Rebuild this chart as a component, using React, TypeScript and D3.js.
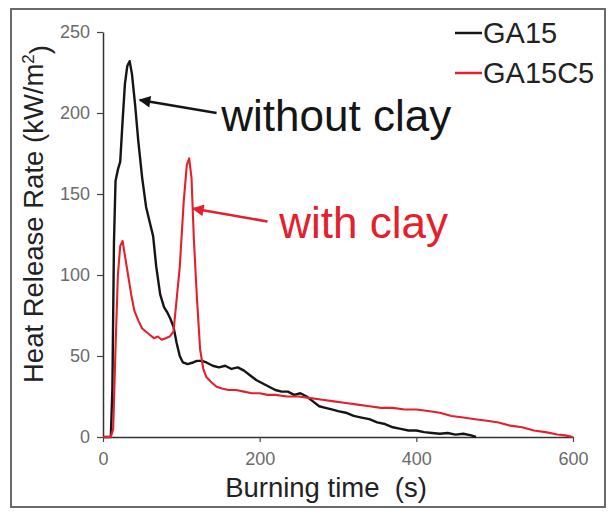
import { useEffect, useRef } from 'react'
import * as d3 from 'd3'

// GA15 (without clay)
const timeGA15 = [0, 10, 12, 14, 16, 19, 22, 25, 28, 31, 34, 37, 41, 45, 50, 55, 60, 64, 68, 73, 78, 82, 86, 90, 94, 98, 102, 108, 115, 120, 126, 132, 140, 148, 156, 164, 172, 180, 188, 196, 204, 212, 220, 228, 236, 244, 252, 260, 268, 276, 284, 292, 300, 310, 320, 330, 340, 350, 360, 370, 380, 390, 400, 410, 420, 430, 440, 450, 460, 470, 476]
const hrrGA15 = [0, 0, 30, 120, 158, 165, 170, 195, 218, 229, 232, 224, 205, 183, 160, 142, 132, 124, 105, 88, 80, 77, 73, 68, 58, 50, 46, 45, 46, 47, 47, 46, 44, 43, 44, 42, 43, 41, 38, 35, 33, 31, 29, 28, 28, 26, 27, 25, 22, 19, 18, 17, 16, 15, 13, 12, 11, 9, 8, 6, 5, 4, 4, 3, 2.5, 2, 2.5, 1.5, 2, 1, 0]

// GA15C5 (with clay)
const timeGA15C5 = [0, 10, 13, 16, 19, 22, 25, 28, 32, 36, 40, 45, 50, 55, 60, 65, 70, 75, 80, 85, 90, 94, 98, 103, 107, 110, 113, 116, 120, 124, 128, 132, 138, 145, 152, 160, 170, 180, 190, 200, 210, 220, 235, 250, 265, 280, 295, 310, 325, 340, 355, 370, 385, 400, 415, 430, 445, 460, 475, 490, 505, 520, 535, 550, 565, 580, 590, 600]
const hrrGA15C5 = [0, 0, 5, 55, 100, 118, 121, 112, 100, 88, 78, 72, 67, 65, 63, 61, 62, 60, 61, 62, 65, 85, 105, 145, 168, 172, 160, 122, 85, 54, 42, 37, 34, 31, 30, 29, 29, 28, 27, 27, 26, 26, 25, 25, 24, 23, 22, 21, 20, 19, 18, 18, 17, 17, 16, 15, 13, 12, 11, 10, 9, 7, 6, 4, 3, 1.5, 1, 0]

const xTicks = [0, 200, 400, 600]
const yTicks = [0, 50, 100, 150, 200, 250]

const seriesNames = ['GA15', 'GA15C5']
const seriesColors = ['#151515', '#e3202c']

// annotations in data units: [tipT, tipV, tailT, tailV, textT, textV]
const annoLabels = ['without clay', 'with clay']
const annoPoints = [
  [47, 208, 145, 200, 151, 189],
  [115, 141, 210, 133, 225, 123],
]

const W = 614
const H = 514
const FONT = '"Liberation Sans", Arial, sans-serif'

export default function App() {
  const svgRef = useRef<SVGSVGElement>(null)

  useEffect(() => {
    if (!svgRef.current) return
    const svg = d3.select(svgRef.current)
    svg.selectAll('*').remove()

    const margin = { top: 32, right: 41, bottom: 77, left: 103 }
    const width = W - margin.left - margin.right
    const height = H - margin.top - margin.bottom

    // outer frame
    svg.append('rect')
      .attr('x', 11).attr('y', 9)
      .attr('width', 594).attr('height', 498)
      .attr('fill', 'white')
      .attr('stroke', '#6a6a6a')
      .attr('stroke-width', 2)

    const defs = svg.append('defs')
    seriesColors.forEach((c, i) => {
      defs.append('marker')
        .attr('id', `arrow${i}`)
        .attr('viewBox', '0 0 10 10')
        .attr('refX', 9).attr('refY', 5)
        .attr('markerWidth', 5).attr('markerHeight', 4.5)
        .attr('markerUnits', 'strokeWidth')
        .attr('orient', 'auto')
        .append('path')
        .attr('d', 'M0,0 L10,5 L0,10 Z')
        .attr('fill', c)
    })

    const g = svg.append('g')
      .attr('transform', `translate(${margin.left},${margin.top})`)

    const x = d3.scaleLinear().domain([0, 600]).range([0, width])
    const y = d3.scaleLinear().domain([0, 250]).range([height, 0])

    const xAxis = g.append('g')
      .attr('transform', `translate(0,${height})`)
      .call(d3.axisBottom(x).tickValues(xTicks).tickSize(5).tickSizeOuter(0).tickPadding(10))
    const yAxis = g.append('g')
      .call(d3.axisLeft(y).tickValues(yTicks).tickSize(6).tickSizeOuter(0).tickPadding(7))

    ;[xAxis, yAxis].forEach(ax => {
      ax.select('.domain').attr('stroke', '#333').attr('stroke-width', 1.5)
      ax.selectAll('.tick line').attr('stroke', '#444').attr('stroke-width', 1.2)
      ax.selectAll('.tick text')
        .attr('fill', '#6b6b6b')
        .style('font-family', FONT)
        .style('font-size', '18px')
    })

    const series = [
      { t: timeGA15, v: hrrGA15 },
      { t: timeGA15C5, v: hrrGA15C5 },
    ]

    const ln = d3.line<[number, number]>()
      .x(d => x(d[0]))
      .y(d => y(d[1]))

    series.forEach((s, si) => {
      const pts = s.t.map((t, i) => [t, s.v[i]] as [number, number])
      g.append('path')
        .datum(pts)
        .attr('fill', 'none')
        .attr('stroke', seriesColors[si])
        .attr('stroke-width', si === 0 ? 2.4 : 2.1)
        .attr('stroke-linejoin', 'round')
        .attr('d', ln)
    })

    // annotations
    annoPoints.forEach((p, i) => {
      g.append('line')
        .attr('x1', x(p[2])).attr('y1', y(p[3]))
        .attr('x2', x(p[0])).attr('y2', y(p[1]))
        .attr('stroke', seriesColors[i])
        .attr('stroke-width', 2.6)
        .attr('marker-end', `url(#arrow${i})`)
      g.append('text')
        .attr('x', x(p[4])).attr('y', y(p[5]))
        .attr('fill', seriesColors[i])
        .style('font-family', FONT)
        .style('font-size', '44px')
        .text(annoLabels[i])
    })

    // legend
    const legend = svg.append('g').attr('transform', 'translate(455,33)')
    seriesNames.forEach((name, i) => {
      const row = legend.append('g').attr('transform', `translate(0,${i * 40})`)
      row.append('line')
        .attr('x1', 0).attr('x2', 27)
        .attr('stroke', seriesColors[i])
        .attr('stroke-width', 2.5)
      row.append('text')
        .attr('x', 28).attr('y', 10)
        .attr('fill', '#222')
        .style('font-family', FONT)
        .style('font-size', '29px')
        .text(name)
    })

    // axis titles
    svg.append('text')
      .attr('transform', 'translate(43,214) rotate(-90)')
      .attr('text-anchor', 'middle')
      .attr('fill', '#222')
      .style('font-family', FONT)
      .style('font-size', '27.5px')
      .text('Heat Release Rate (kW/m')
      .call(t => {
        t.append('tspan').attr('dy', '-0.55em').style('font-size', '17px').text('2')
        t.append('tspan').attr('dy', '0.55em').text(')')
      })

    svg.append('text')
      .attr('x', 326).attr('y', 497)
      .attr('text-anchor', 'middle')
      .attr('fill', '#222')
      .attr('xml:space', 'preserve')
      .style('white-space', 'pre')
      .style('font-family', FONT)
      .style('font-size', '27.5px')
      .text('Burning time  (s)')
  }, [])

  return (
    <svg
      ref={svgRef}
      width={W}
      height={H}
      style={{ position: 'absolute', left: 0, top: 0, background: 'white' }}
    />
  )
}
